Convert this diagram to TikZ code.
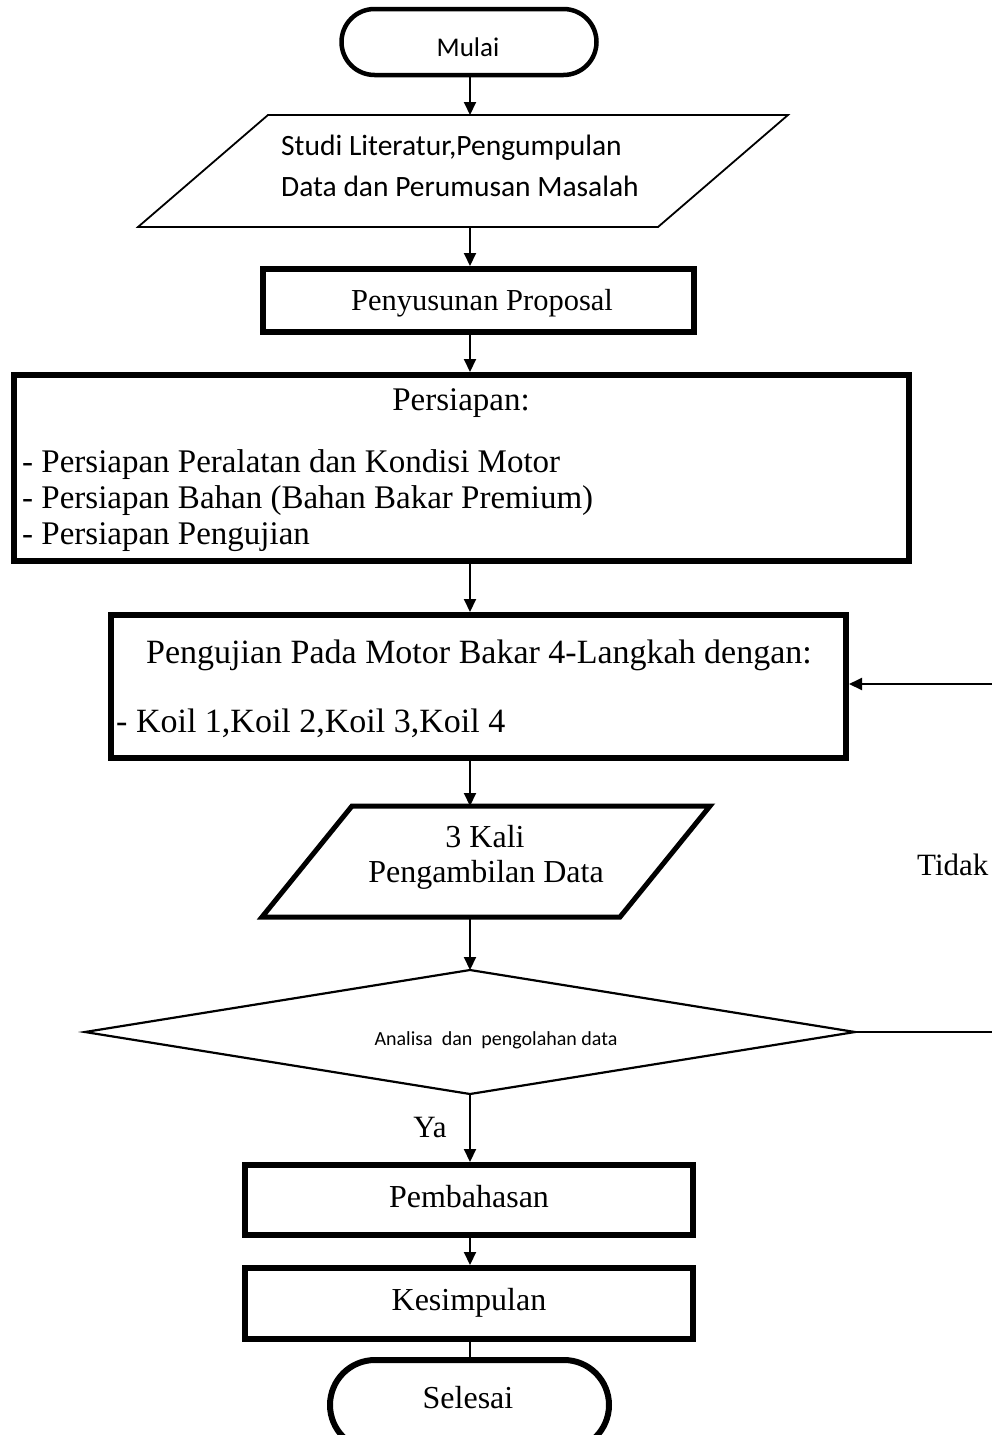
\documentclass[tikz,border=0pt]{standalone}
\usepackage{fontspec}
\setmainfont{Liberation Serif}
\newfontfamily\calib{Carlito}
\usetikzlibrary{arrows.meta}
\begin{document}
\begin{tikzpicture}[x=1pt,y=-1pt,
  every node/.style={inner sep=0pt},
  conn/.style={line width=2pt,-{Triangle[length=13pt,width=12pt]}},
  plain/.style={line width=2pt},
  bigbox/.style={draw,line width=6pt,rectangle},
  hold/.style={inner sep=0pt,outer sep=0pt},
  tnr/.style={font=\fontsize{32}{38}\selectfont},
  tnrprop/.style={font=\fontsize{30.5}{36}\selectfont},
  tnrprep/.style={font=\fontsize{33}{39}\selectfont},
  tnrpeng/.style={font=\fontsize{34}{40}\selectfont},
  tnrlab/.style={font=\fontsize{31}{37}\selectfont},
  cal/.style={font=\calib\fontsize{29.5}{35}\selectfont},
  calmid/.style={font=\calib\fontsize{27}{32}\selectfont},
  calsmall/.style={font=\calib\fontsize{20}{24}\selectfont}
]
\useasboundingbox (0,0) rectangle (992,1435);
\coordinate (ax) at (470,0);

% Mulai
\node[draw,line width=4.5pt,minimum width=255pt,minimum height=66pt,rounded corners=33pt] (mulai) at (469,42) {};
\node[calmid,anchor=base] (mulait) at (468,56) {Mulai};

% Studi literatur (parallelogram)
\node[hold,minimum width=400pt,minimum height=112pt] (studi) at (470,171) {};
\draw[line width=1.8pt] (268,115) -- (788,115) -- (658,227) -- (138,227) -- cycle;
\node[cal,anchor=base west] (studi1) at (281,155) {Studi Literatur,Pengumpulan};
\node[cal,anchor=base west] (studi2) at (281,196) {Data dan Perumusan Masalah};

% Penyusunan Proposal
\node[bigbox,minimum width=431pt,minimum height=63pt] (prop) at (478.5,300.5) {};
\node[tnrprop,anchor=base] (propt) at (482,310) {Penyusunan Proposal};

% Persiapan
\node[bigbox,minimum width=895pt,minimum height=186pt] (prep) at (461.5,468) {};
\node[tnrprep,anchor=base] (prept) at (461,410) {Persiapan:};
\node[tnrprep,anchor=base west] (prep1) at (22,472) {- Persiapan Peralatan dan Kondisi Motor};
\node[tnrprep,anchor=base west] (prep2) at (22,508) {- Persiapan Bahan (Bahan Bakar Premium)};
\node[tnrprep,anchor=base west] (prep3) at (22,544) {- Persiapan Pengujian};

% Pengujian
\node[bigbox,minimum width=735pt,minimum height=143pt] (peng) at (478.5,686.5) {};
\node[tnrpeng,anchor=base] (pengt) at (479,663) {Pengujian Pada Motor Bakar 4-Langkah dengan:};
\node[tnrpeng,anchor=base west] (peng1) at (116,732) {- Koil 1,Koil 2,Koil 3,Koil 4};

% 3 Kali (parallelogram)
\node[hold,minimum width=300pt,minimum height=111pt] (kali) at (470,861.5) {};
\draw[line width=5pt,line join=miter] (262,917) -- (352,806) -- (710,806) -- (620,917) -- cycle;
\node[tnr,anchor=base] (kali1) at (485,847) {3 Kali};
\node[tnr,anchor=base] (kali2) at (486,882) {Pengambilan Data};

% Decision diamond
\node[hold,minimum width=770pt,minimum height=124pt] (dia) at (470,1032) {};
\draw[line width=2.2pt] (85,1032) -- (470,970) -- (855,1032) -- (470,1094) -- cycle;
\node[calsmall,anchor=base] (diat) at (496,1045) {Analisa\ \ dan\ \ pengolahan data};

\node[tnrlab,anchor=base west] (tidak) at (917,875) {Tidak};
\node[tnrlab,anchor=base] (ya) at (430,1137) {Ya};

% Pembahasan, Kesimpulan
\node[bigbox,minimum width=448pt,minimum height=70pt] (pem) at (469,1200) {};
\node[tnr,anchor=base] (pemt) at (469,1207) {Pembahasan};
\node[bigbox,minimum width=448pt,minimum height=71pt] (kes) at (469,1303.5) {};
\node[tnr,anchor=base] (kest) at (469,1310) {Kesimpulan};

% Selesai
\node[draw,line width=6pt,minimum width=279pt,minimum height=90pt,rounded corners=45pt] (sel) at (469.5,1405) {};
\node[tnr,anchor=base] (selt) at (468,1408) {Selesai};

% Connectors
\draw[conn] (ax |- mulai.south) -- (ax |- studi.north);
\draw[conn] (ax |- studi.south) -- (ax |- prop.north);
\draw[conn] (ax |- prop.south) -- (ax |- prep.north);
\draw[conn] (ax |- prep.south) -- (ax |- peng.north);
\draw[conn] (ax |- peng.south) -- (ax |- kali.north);
\draw[conn] (ax |- kali.south) -- (ax |- dia.north);
\draw[conn] (ax |- dia.south) -- (ax |- pem.north);
\draw[conn] (ax |- pem.south) -- (ax |- kes.north);
\draw[plain] (ax |- kes.south) -- (ax |- sel.north);

\coordinate (lp) at (999,1032);
\coordinate (lq) at (999,684);
\draw[conn] (855,1032) -- (lp) -- (lq) -- (lq -| peng.east);
\end{tikzpicture}
\end{document}
